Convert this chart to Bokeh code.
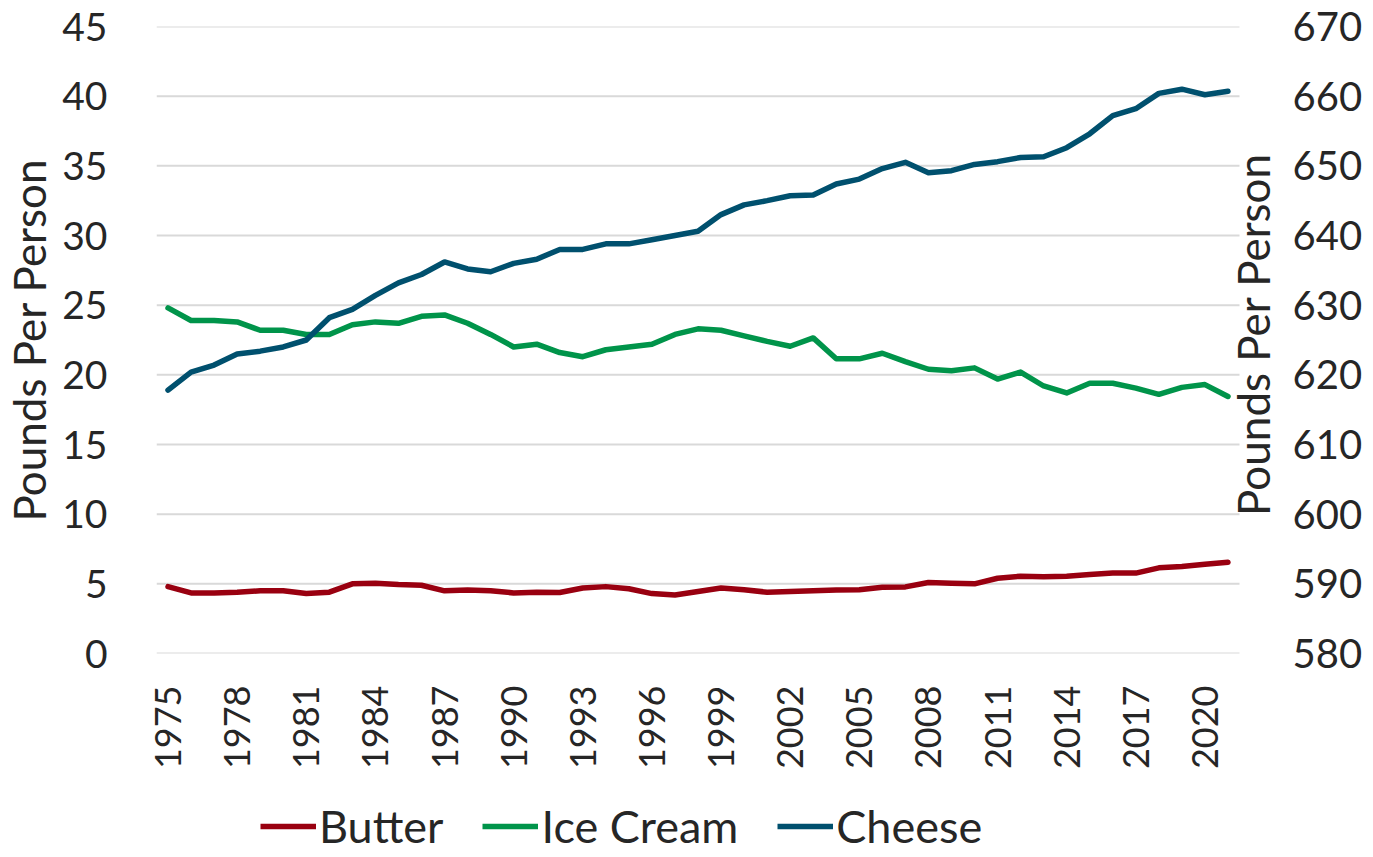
import math
from bokeh.plotting import figure
from bokeh.layouts import column
from bokeh.models import (Range1d, LinearAxis, FixedTicker, Legend, LegendItem, Label)
from bokeh.embed import file_html
from bokeh.resources import INLINE

years = list(range(1975, 2022))
butter = [4.8, 4.35, 4.35, 4.4, 4.5, 4.5, 4.3, 4.4, 5.0, 5.05, 4.95, 4.9,
          4.5, 4.55, 4.5, 4.35, 4.4, 4.38, 4.7, 4.8, 4.65, 4.3, 4.2, 4.45,
          4.7, 4.57, 4.4, 4.45, 4.5, 4.55, 4.57, 4.75, 4.78, 5.1, 5.05, 5.0,
          5.4, 5.55, 5.5, 5.55, 5.67, 5.77, 5.77, 6.15, 6.25, 6.4, 6.55]
ice_cream = [24.8, 23.9, 23.9, 23.8, 23.2, 23.2, 22.9, 22.9, 23.6, 23.8, 23.7, 24.2,
             24.3, 23.7, 22.9, 22.0, 22.2, 21.6, 21.3, 21.8, 22.0, 22.2, 22.9, 23.3,
             23.2, 22.8, 22.4, 22.05, 22.65, 21.15, 21.15, 21.55, 20.95, 20.4, 20.3, 20.5,
             19.7, 20.2, 19.2, 18.7, 19.4, 19.4, 19.05, 18.6, 19.1, 19.3, 18.45]
cheese = [18.9, 20.2, 20.7, 21.5, 21.7, 22.0, 22.5, 24.1, 24.7, 25.7, 26.6, 27.2,
          28.1, 27.6, 27.4, 28.0, 28.3, 29.0, 29.0, 29.4, 29.4, 29.7, 30.0, 30.3,
          31.5, 32.2, 32.5, 32.85, 32.9, 33.7, 34.05, 34.8, 35.25, 34.5, 34.65, 35.1,
          35.3, 35.6, 35.65, 36.3, 37.3, 38.6, 39.1, 40.2, 40.5, 40.1, 40.35]
x_ticks = list(range(1975, 2022, 3))
left_ticks = list(range(0, 50, 5))
right_ticks = list(range(580, 680, 10))
series_names = ["Butter", "Ice Cream", "Cheese"]
colors = ["#990010", "#00944A", "#00506E"]
axis_title = "Pounds Per Person"

FONT = "Lato"
TXT = "#262626"
LW = 5.5

# category band layout: plot area holds the 47 years, plus a strip on the right
# for the secondary axis title (between the lines and the 580-670 labels)
PLOT_W = 1083
STRIP_W = 45
TOP, FRAME_H, BOTTOM = 26, 627, 134
x0 = years[0] - 0.5
x1 = years[-1] + 0.5
px_per_year = PLOT_W / (x1 - x0)
x_end = x1 + STRIP_W / px_per_year

p = figure(frame_width=PLOT_W + STRIP_W, frame_height=FRAME_H, output_backend="svg",
           toolbar_location=None,
           x_range=Range1d(x0, x_end), y_range=Range1d(0, 45),
           min_border_left=152, min_border_right=77, min_border_top=TOP,
           min_border_bottom=BOTTOM)
p.outline_line_color = None
p.extra_y_ranges = {"right": Range1d(580, 670)}

p.xgrid.grid_line_color = None
p.ygrid.grid_line_color = None
# horizontal gridlines over the category area only
p.segment(x0=[x0] * len(left_ticks), x1=[x1] * len(left_ticks), y0=left_ticks, y1=left_ticks,
          line_color="#D9D9D9", line_width=2)


def plain(ax):
    ax.axis_line_color = None
    ax.major_tick_line_color = None
    ax.minor_tick_line_color = None
    ax.major_label_text_font = FONT
    ax.major_label_text_color = TXT
    ax.axis_label_text_font = FONT
    ax.axis_label_text_color = TXT
    ax.axis_label_text_font_style = "normal"
    ax.axis_label_text_font_size = "44px"


plain(p.xaxis[0])
plain(p.yaxis[0])

p.yaxis[0].ticker = FixedTicker(ticks=left_ticks)
p.yaxis[0].major_label_text_font_size = "39px"
p.yaxis[0].major_label_standoff = 43
p.yaxis[0].axis_label = axis_title
p.yaxis[0].axis_label_standoff = 4

p.xaxis[0].ticker = FixedTicker(ticks=x_ticks)
p.xaxis[0].major_label_orientation = math.pi / 2
p.xaxis[0].major_label_text_font_size = "36px"
p.xaxis[0].major_label_standoff = 26

ra = LinearAxis(y_range_name="right", ticker=FixedTicker(ticks=right_ticks))
plain(ra)
ra.major_label_text_font_size = "40px"
ra.major_label_standoff = 2
p.add_layout(ra, "right")

renderers = []
for vals, c in zip([butter, ice_cream, cheese], colors):
    r = p.line(years, vals, line_color=c, line_width=LW, line_join="round", line_cap="round")
    renderers.append(r)

# secondary axis title inside the right strip, reading bottom to top
p.add_layout(Label(x=x1 + 0.6, y=22.9, text=axis_title, angle=math.pi / 2,
                   text_align="center", text_baseline="middle",
                   text_font=FONT, text_font_size="44px", text_color=TXT))

# legend strip below the chart
LG_H = 849 - (TOP + FRAME_H + BOTTOM)
lg = figure(width=1357, height=LG_H, output_backend="svg", toolbar_location=None,
            x_range=Range1d(0, 1), y_range=Range1d(0, 1),
            x_axis_location=None, y_axis_location=None,
            min_border_left=0, min_border_right=0, min_border_top=0, min_border_bottom=0)
lg.outline_line_color = None
lg.xgrid.grid_line_color = None
lg.ygrid.grid_line_color = None
nan = float("nan")
dummies = [lg.line(x=[nan], y=[nan], line_color=c, line_width=LW) for c in colors]

legend = Legend(items=[LegendItem(label=n, renderers=[r]) for n, r in zip(series_names, dummies)],
                orientation="horizontal", location=(104, -4))
legend.label_text_font = FONT
legend.label_text_font_size = "45px"
legend.label_text_color = TXT
legend.glyph_width = 56
legend.glyph_height = 28
legend.label_height = 28
legend.label_standoff = 3
legend.spacing = 39
legend.padding = 0
legend.margin = 0
legend.border_line_color = None
legend.background_fill_alpha = 0
lg.add_layout(legend, "center")

layout = column(p, lg, spacing=0)
open("out.html", "w").write(file_html(layout, INLINE))
